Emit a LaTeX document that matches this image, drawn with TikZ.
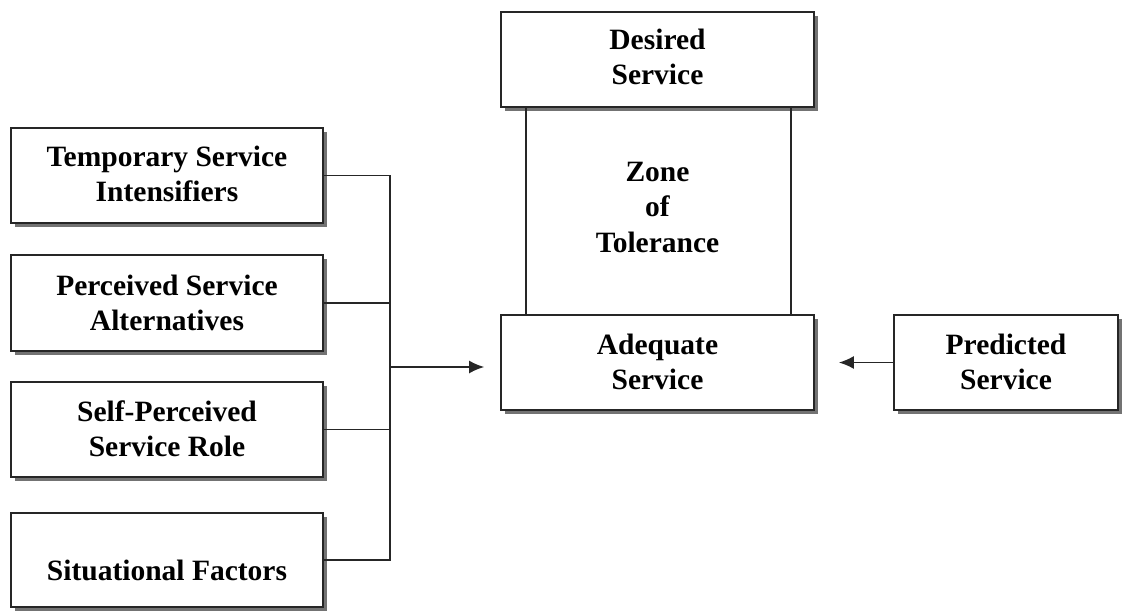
\documentclass[tikz,border=0pt]{standalone}
\usepackage{fontspec}
\setmainfont{Liberation Serif}
\usetikzlibrary{shadows,arrows.meta}
\begin{document}
\begin{tikzpicture}[x=1pt,y=-1pt,
  box/.style={draw=black!85, line width=1.8pt, fill=white, inner sep=0pt,
    drop shadow={shadow xshift=4pt, shadow yshift=-4pt, fill=black!55, opacity=1}},
  txt/.style={align=center, inner sep=0pt, font=\bfseries\fontsize{29.5}{35.5}\selectfont},
  conn/.style={draw=black!85, line width=1.5pt},
  arr/.style={conn, -{Latex[length=15pt,width=13pt]}}]
\useasboundingbox (0,0) rectangle (1123,610);
% left boxes
\node[box, minimum width=312pt, minimum height=95pt] (b1) at (167,175.5) {};
\node[box, minimum width=312pt, minimum height=96pt] (b2) at (167,303) {};
\node[box, minimum width=312pt, minimum height=95pt] (b3) at (167,429.5) {};
\node[box, minimum width=312pt, minimum height=94pt] (b4) at (167,560) {};
\node[txt] (t1) at (167,174) {Temporary Service\\Intensifiers};
\node[txt] (t2) at (167,303) {Perceived Service\\Alternatives};
\node[txt] (t3) at (167,429) {Self-Perceived\\Service Role};
\node[txt] (t4) at (167,570) {Situational Factors};
% centre column
\node[box, minimum width=313pt, minimum height=95pt] (des) at (657.5,59.5) {};
\node[box, minimum width=313pt, minimum height=95pt] (ade) at (657.5,362.5) {};
\node[txt] (tdes) at (657.5,57) {Desired\\Service};
\node[txt] (tade) at (657.5,362) {Adequate\\Service};
\draw[conn] (des.south -| 526,0) coordinate (zl1) -- (ade.north -| 526,0) coordinate (zl2);
\draw[conn] (des.south -| 791,0) coordinate (zr1) -- (ade.north -| 791,0) coordinate (zr2);
\node[txt] (zone) at (657.5,207) {Zone\\of\\Tolerance};
% right box
\node[box, minimum width=224pt, minimum height=95pt] (pre) at (1006,362.5) {};
\node[txt] (tpre) at (1006,362) {Predicted\\Service};
% connectors
\coordinate (j) at (390,367);
\draw[conn] (b1.east) -| (j);
\draw[conn] (b4.east) -| (j);
\draw[conn] (b2.east) -- (b2.east -| j);
\draw[conn] (b3.east) -- (b3.east -| j);
\draw[arr, shorten >=16pt] (j) -- (j -| ade.west);
\draw[arr, shorten >=24pt] (pre.west) -- (pre.west -| ade.east);
\end{tikzpicture}
\end{document}
